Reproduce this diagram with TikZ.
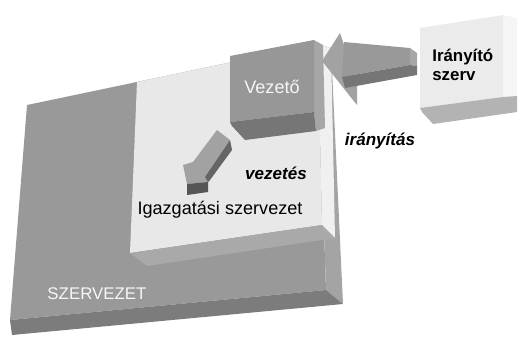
\documentclass[tikz,border=0pt]{standalone}
\usepackage{fontspec}
\setmainfont{Liberation Sans}
\usepackage{tikz}
\usetikzlibrary{positioning}
\usepackage{xcolor}

\definecolor{slabfront}{HTML}{999999}
\definecolor{slabside}{HTML}{A4A4A4}
\definecolor{slabband}{HTML}{7C7C7C}
\definecolor{igface}{HTML}{E8E8E8}
\definecolor{igside}{HTML}{F0F0F0}
\definecolor{igband}{HTML}{A9A9A9}
\definecolor{vezfront}{HTML}{979797}
\definecolor{vezside}{HTML}{A6A6A6}
\definecolor{vezband}{HTML}{767676}
\definecolor{arrlight}{HTML}{A2A2A2}
\definecolor{arrdark}{HTML}{656565}
\definecolor{arrbottom}{HTML}{555555}
\definecolor{irfront}{HTML}{EBEBEB}
\definecolor{irside}{HTML}{F5F5F5}
\definecolor{irband}{HTML}{B3B3B3}
\definecolor{labwhite}{HTML}{F6F6F6}

\begin{document}
\begin{tikzpicture}[x=0.02cm, y=-0.02cm,
  txt/.style={inner sep=0pt, font=\fontsize{10.3}{12}\selectfont},
  boldtxt/.style={inner sep=0pt, font=\fontsize{9.6}{10.8}\selectfont\bfseries, align=left},
  emtxt/.style={inner sep=0pt, font=\fontsize{9.7}{12}\selectfont\bfseries\itshape}]

\useasboundingbox (0,0) rectangle (520,336);

% SZERVEZET slab
\fill[slabfront] (27,105) -- (318,44) -- (326,290) -- (10,320) -- cycle;
\fill[slabside] (318,44) -- (331,48) -- (343,304) -- (326,290) -- cycle;
\fill[slabband] (10,320) -- (326,290) -- (343,304) -- (12,335) -- cycle;

% Igazgatasi szervezet block
\fill[igface] (137,82) -- (318,44) -- (322,225) -- (130,253) -- cycle;
\fill[igside] (318,44) -- (331,48) -- (335,238) -- (322,225) -- cycle;
\fill[igband] (130,253) -- (322,225) -- (335,238) -- (147,266) -- cycle;

% Vezeto box
\fill[vezfront] (230,56) -- (314,40) -- (314,112) -- (230,122) -- cycle;
\fill[vezside] (314,40) -- (323,45) -- (325,128) -- (316,131) -- (314,112) -- cycle;
\fill[vezband] (230,122) -- (314,112) -- (316,131) -- (245,140) -- (232,126) -- cycle;

% vezetes arrow
\fill[arrlight] (217,130) -- (230,140) -- (205,177) -- (208,182) -- (187,184) -- (183,165) -- (193,162) -- cycle;
\fill[arrdark] (230,140) -- (232,150) -- (210,180) -- (208,182) -- (205,177) -- cycle;
\fill[arrbottom] (187,184) -- (208,182) -- (208,192) -- (187,195) -- cycle;

% iranyitas arrow
\fill[arrlight] (340,33) -- (322,61) -- (357,105) -- (357,84) -- cycle;
\fill[slabfront] (344,42) -- (410,48) -- (410,65) -- (342,77) -- cycle;
\fill[vezside] (410,48) -- (417,53) -- (417,66) -- (410,65) -- cycle;
\fill[vezband] (342,77) -- (410,65) -- (417,66) -- (417,75) -- (345,88) -- cycle;

% Iranyito szerv box
\fill[irfront] (420,28) -- (503,15) -- (503,97) -- (420,108) -- cycle;
\fill[irside] (503,15) -- (517,18) -- (517,96) -- (503,97) -- cycle;
\fill[irband] (420,108) -- (503,97) -- (517,96) -- (517,112) -- (433,124) -- (422,112) -- cycle;

% nodes
\node[txt, text=labwhite] (vezeto) at (272,87) {Vezető};
\node[boldtxt, anchor=base west] (iranyito) at (432,80) {Irányító\\szerv};
\node[emtxt] (iranyitas) at (380,141) {irányítás};
\node[emtxt] (vezetes) at (276,173) {vezetés};
\node[txt] (igazgatasi) at (220,210) {Igazgatási szervezet};
\node[txt, text=labwhite, font=\fontsize{9.6}{12}\selectfont] (szervezet) at (97,294) {SZERVEZET};

\end{tikzpicture}
\end{document}
